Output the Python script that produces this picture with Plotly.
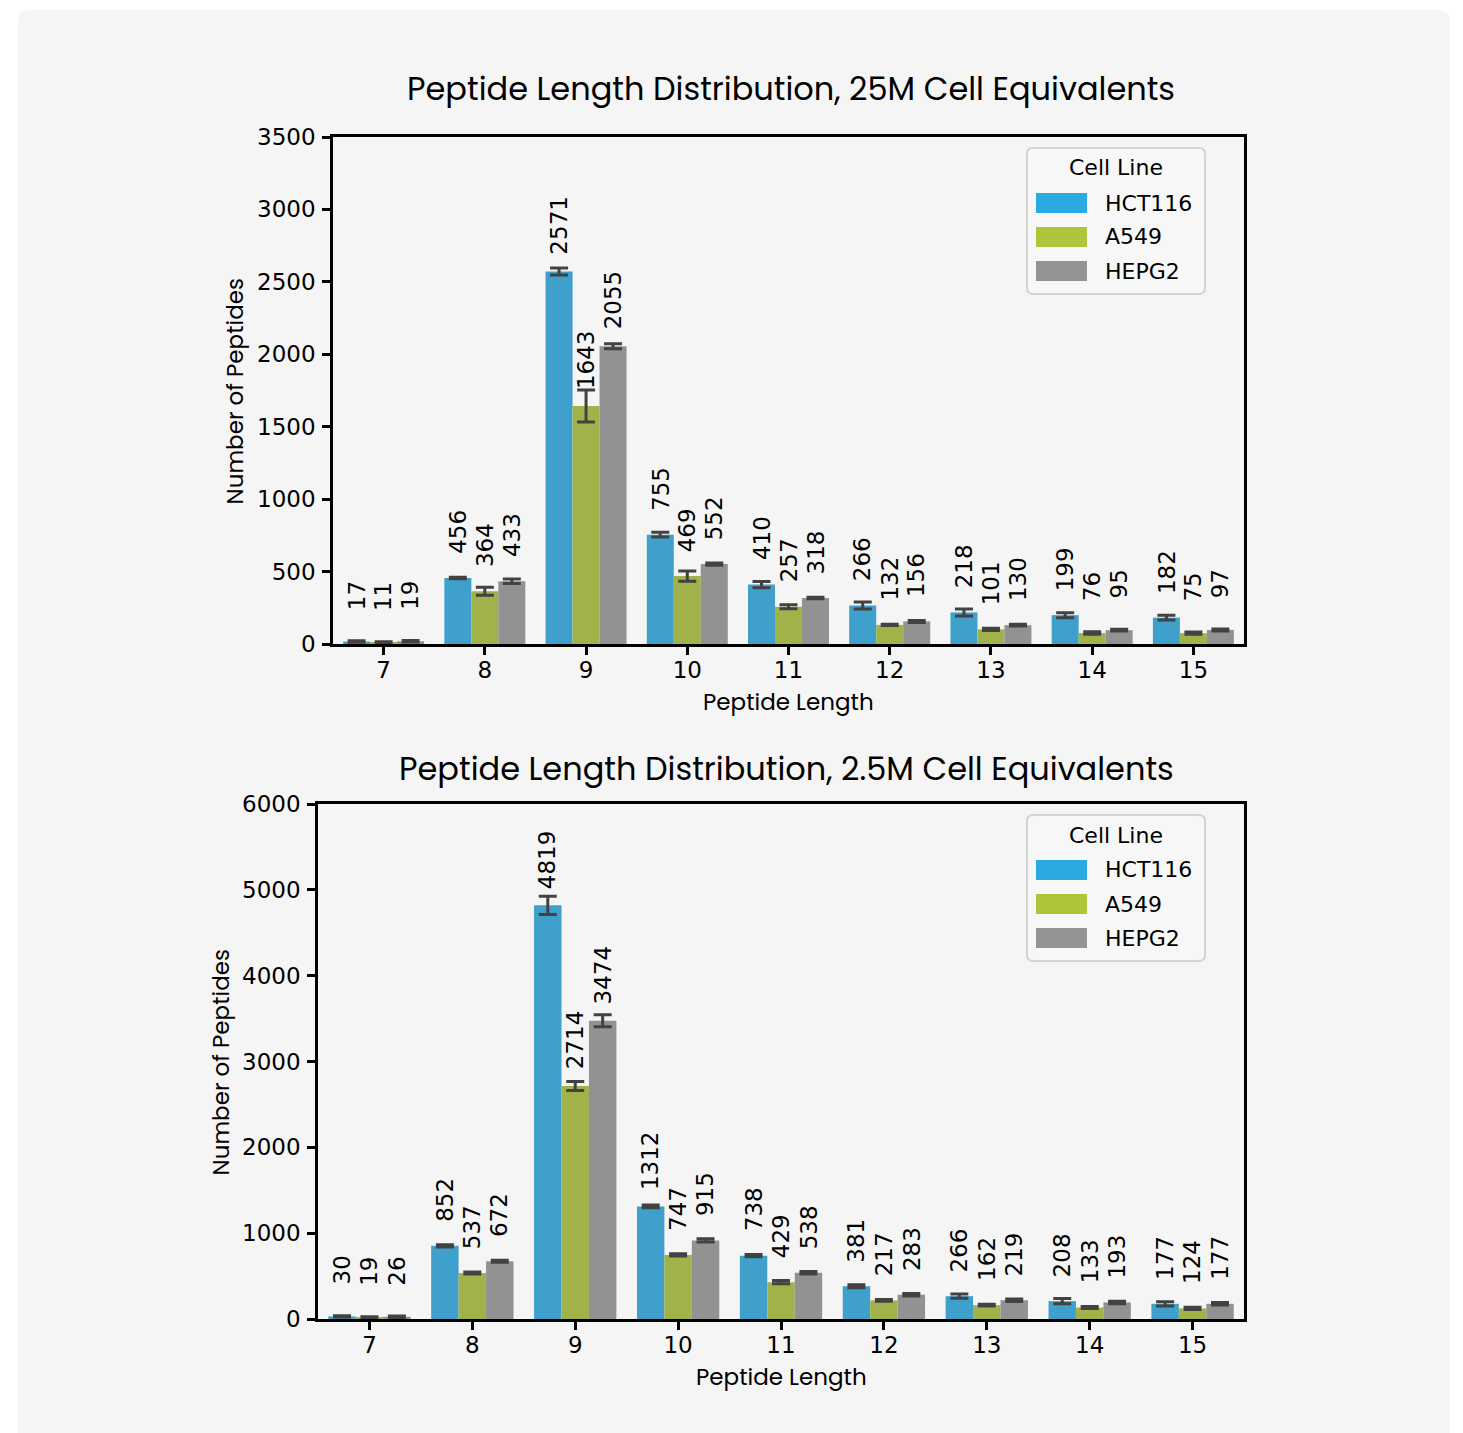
import plotly.graph_objects as go

# ---------------- data ----------------
lengths = ["7", "8", "9", "10", "11", "12", "13", "14", "15"]
series = ["HCT116", "A549", "HEPG2"]

top_hct116 = [17, 456, 2571, 755, 410, 266, 218, 199, 182]
top_a549 = [11, 364, 1643, 469, 257, 132, 101, 76, 75]
top_hepg2 = [19, 433, 2055, 552, 318, 156, 130, 95, 97]
top_hct116_err = [5, 5, 24, 17, 21, 24, 24, 17, 16]
top_a549_err = [4, 28, 110, 35, 14, 5, 8, 9, 8]
top_hepg2_err = [5, 16, 17, 8, 5, 7, 6, 6, 7]

bot_hct116 = [30, 852, 4819, 1312, 738, 381, 266, 208, 177]
bot_a549 = [19, 537, 2714, 747, 429, 217, 162, 133, 124]
bot_hepg2 = [26, 672, 3474, 915, 538, 283, 219, 193, 177]
bot_hct116_err = [8, 12, 105, 17, 14, 17, 25, 31, 25]
bot_a549_err = [6, 12, 52, 12, 19, 10, 10, 12, 12]
bot_hepg2_err = [8, 12, 70, 19, 14, 14, 14, 14, 14]

titles = ["Peptide Length Distribution, 25M Cell Equivalents",
          "Peptide Length Distribution, 2.5M Cell Equivalents"]
y_ticks = [[0, 500, 1000, 1500, 2000, 2500, 3000, 3500],
           [0, 1000, 2000, 3000, 4000, 5000, 6000]]
legend_title = "Cell Line"
x_title = "Peptide Length"
y_title = "Number of Peptides"

# ---------------- style ----------------
W, H = 1463, 1433
OFF = 8  # page body margin of the html page
bar_colors = ["#3ea0cb", "#a2b24a", "#929292"]
legend_colors = ["#29abe2", "#afc43a", "#939393"]
err_color = "#424242"
card_bg = "#f5f5f5"
tick_font = "DejaVu Sans"
title_font = "Poppins, Open Sans, sans-serif"

# axes boxes in screen pixels: (left, right, top, bottom)
boxes = [(333, 1244, 137, 644), (318, 1244, 804, 1319)]


def px(x):
    return (x - OFF) / W


def py(y):
    return 1 - (y - OFF) / H


fig = go.Figure()

panels = [
    ([top_hct116, top_a549, top_hepg2], [top_hct116_err, top_a549_err, top_hepg2_err]),
    ([bot_hct116, bot_a549, bot_hepg2], [bot_hct116_err, bot_a549_err, bot_hepg2_err]),
]

annotations = []
shapes = []


def rounded_rect(x0, y0, x1, y1, r):
    rx, ry = r / W, r / H
    X0, X1 = px(x0), px(x1)
    Y0, Y1 = py(y0), py(y1)
    return (f"M {X0+rx},{Y0} L {X1-rx},{Y0} Q {X1},{Y0} {X1},{Y0-ry} "
            f"L {X1},{Y1+ry} Q {X1},{Y1} {X1-rx},{Y1} "
            f"L {X0+rx},{Y1} Q {X0},{Y1} {X0},{Y1+ry} "
            f"L {X0},{Y0-ry} Q {X0},{Y0} {X0+rx},{Y0} Z")


shapes.append(dict(type="path", xref="paper", yref="paper",
                   path=rounded_rect(18, 10, 1450, 1460, 12),
                   fillcolor=card_bg, line=dict(width=0), layer="below"))

for p, (vals, errs) in enumerate(panels):
    xa = "x" if p == 0 else "x2"
    ya = "y" if p == 0 else "y2"
    for j, name in enumerate(series):
        fig.add_trace(go.Bar(
            x=lengths, y=vals[j], name=name, xaxis=xa, yaxis=ya,
            marker=dict(color=bar_colors[j], line=dict(width=0)),
            error_y=dict(type="data", array=errs[j], color=err_color,
                         thickness=3, width=9),
            showlegend=False,
        ))
        for i, v in enumerate(vals[j]):
            annotations.append(dict(
                x=i + (j - 1) * 0.8 / 3, y=v, xref=xa, yref=ya,
                text=str(v), textangle=-90, showarrow=False,
                xanchor="center", yanchor="middle", yshift=46,
                font=dict(family=tick_font, size=23, color="black")))

    l, r, t, b = boxes[p]
    annotations.append(dict(x=px(791 if p == 0 else 786), y=py(88 if p == 0 else 768),
                            xref="paper", yref="paper", text=titles[p],
                            showarrow=False, xanchor="center", yanchor="middle",
                            font=dict(family=title_font, size=32, color="black")))
    annotations.append(dict(x=px((l + r) / 2), y=py(b + 58), xref="paper", yref="paper",
                            text=x_title, showarrow=False, xanchor="center", yanchor="middle",
                            font=dict(family=title_font, size=23, color="black")))
    annotations.append(dict(x=px(l - 98), y=py((t + b) / 2), xref="paper", yref="paper",
                            text=y_title, showarrow=False, textangle=-90,
                            xanchor="center", yanchor="middle",
                            font=dict(family=title_font, size=23, color="black")))

    lx0, lx1 = r - 217, r - 39
    ly0 = t + 11
    ly1 = ly0 + 146
    shapes.append(dict(type="path", xref="paper", yref="paper",
                       path=rounded_rect(lx0, ly0, lx1, ly1, 6),
                       fillcolor="#f7f7f7", line=dict(color="#d4d4d4", width=2)))
    annotations.append(dict(x=px((lx0 + lx1) / 2), y=py(ly0 + 20), xref="paper", yref="paper",
                            text=legend_title, showarrow=False, xanchor="center",
                            yanchor="middle",
                            font=dict(family=tick_font, size=22, color="black")))
    for j, name in enumerate(series):
        cy = ly0 + 55 + j * 34
        shapes.append(dict(type="rect", xref="paper", yref="paper",
                           x0=px(lx0 + 9), x1=px(lx0 + 60),
                           y0=py(cy - 10), y1=py(cy + 10),
                           fillcolor=legend_colors[j], line=dict(width=0)))
        annotations.append(dict(x=px(lx0 + 76), y=py(cy), xref="paper", yref="paper",
                                text=name, showarrow=False, xanchor="left",
                                yanchor="middle",
                                font=dict(family=tick_font, size=22, color="black")))

axis_common = dict(showline=True, linecolor="black", linewidth=2.5, mirror=True,
                   ticks="outside", ticklen=8, tickwidth=2.5, tickcolor="black",
                   showgrid=False, zeroline=False, automargin=False,
                   tickfont=dict(family=tick_font, size=23, color="black"))

layout_axes = {}
for p in range(2):
    l, r, t, b = boxes[p]
    xk = "xaxis" if p == 0 else "xaxis2"
    yk = "yaxis" if p == 0 else "yaxis2"
    layout_axes[xk] = dict(axis_common, domain=[px(l), px(r)], type="category",
                           anchor="y" if p == 0 else "y2", ticklabelstandoff=-4)
    ymax = y_ticks[p][-1]
    layout_axes[yk] = dict(axis_common, domain=[py(b), py(t)], range=[0, ymax],
                           tickvals=y_ticks[p], ticktext=[str(v) for v in y_ticks[p]],
                           anchor="x" if p == 0 else "x2", ticklabelstandoff=2)

fig.update_layout(
    width=W, height=H, autosize=False,
    margin=dict(l=0, r=0, t=0, b=0, pad=0, autoexpand=False),
    paper_bgcolor="white", plot_bgcolor=card_bg,
    barmode="group", bargap=0.2, bargroupgap=0,
    annotations=annotations, shapes=shapes,
    showlegend=False,
    **layout_axes,
)

fig.write_html("out.html")
